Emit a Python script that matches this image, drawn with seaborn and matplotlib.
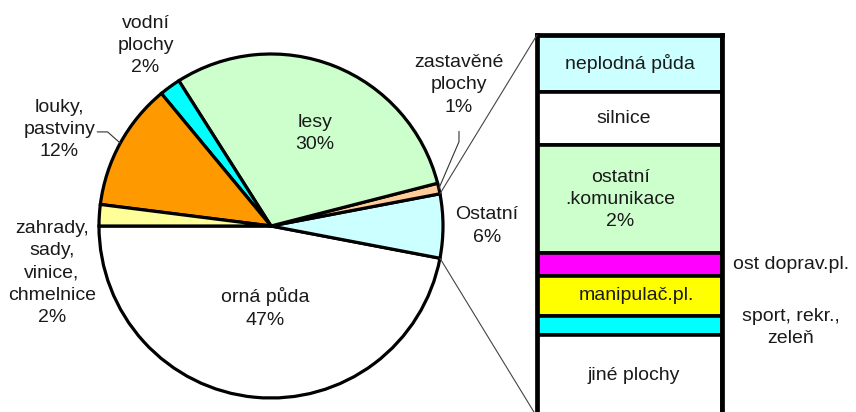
import numpy as np
import matplotlib.pyplot as plt
import seaborn as sns
from matplotlib.patches import ConnectionPatch

# land use - pie part (percent)
pie_labels = ["orná půda\n47%", "Ostatní\n6%", "zastavěné\nplochy\n1%", "lesy\n30%",
              "vodní\nplochy\n2%", "louky,\npastviny\n12%",
              "zahrady,\nsady,\nvinice,\nchmelnice\n2%"]
pie_values = [47, 6, 1, 30, 2, 12, 2]
pie_colors = ["#FFFFFF", "#CCFFFF", "#FFCC99", "#CCFFCC", "#00FFFF", "#FF9900", "#FFFF99"]

# breakdown of "Ostatní" (percent of total)
bar_labels = ["neplodná půda", "silnice", "ostatní\n.komunikace\n2%", "ost doprav.pl.",
              "manipulač.pl.", "sport, rekr.,\nzeleň", "jiné plochy"]
bar_values = [0.90, 0.83, 1.70, 0.35, 0.63, 0.30, 1.29]
bar_colors = ["#CCFFFF", "#FFFFFF", "#CCFFCC", "#FF00FF", "#FFFF00", "#00FFFF", "#FFFFFF"]

sns.set_theme(style="white")
plt.rcParams["font.family"] = ["Liberation Sans", "DejaVu Sans"]
txt = dict(fontsize=14, color="#1a1a1a", ha="center", va="center", linespacing=1.4)

fig = plt.figure(figsize=(8.56, 4.12), dpi=100)
ax_pie = fig.add_axes([99 / 856, 14 / 412, 344 / 856, 344 / 412])
ax_bar = fig.add_axes([537 / 856, -5 / 412, 185 / 856, 382 / 412])

wedges, _ = ax_pie.pie(pie_values, colors=pie_colors, startangle=180, counterclock=True,
                       wedgeprops=dict(edgecolor="black", linewidth=2.3))
ax_pie.set_xlim(-1, 1)
ax_pie.set_ylim(-1, 1)
ax_pie.axis("off")

# label positions (pie data coords)
label_pos = [(-0.035, -0.477), (1.256, 0.0), (1.09, 0.82), (0.256, 0.54),
             (-0.73, 1.05), (-1.23, 0.56), (-1.273, -0.273)]
for lab, (x, y) in zip(pie_labels, label_pos):
    ax_pie.text(x, y, lab, clip_on=False, **txt)

def edge_point(w, r=1.0):
    a = np.deg2rad((w.theta1 + w.theta2) / 2)
    return r * np.cos(a), r * np.sin(a)

# leader lines
ex, ey = edge_point(wedges[5])
ax_pie.plot([-1.01, -0.95, ex], [0.547, 0.547, ey], color="#333333", lw=0.8, clip_on=False)
ex, ey = edge_point(wedges[2])
ax_pie.plot([1.093, 1.093, ex], [0.55, 0.49, ey], color="#333333", lw=0.8, clip_on=False)

# stacked bar
bottoms = np.concatenate([[0], np.cumsum(bar_values)[:-1]])
for val, b, c in zip(bar_values, bottoms, bar_colors):
    ax_bar.bar(0, val, bottom=b, width=1, color=c, edgecolor="black", linewidth=2.6)
total = sum(bar_values)
ax_bar.set_xlim(-0.5, 0.5)
ax_bar.set_ylim(total, 0)
ax_bar.set_xticks([])
ax_bar.set_yticks([])
for s in ax_bar.spines.values():
    s.set_linewidth(3.4)
    s.set_color("black")

# label x placement inside / beside the bar (axes data units)
label_x = [0.0, -0.03, -0.05, 0.56, 0.035, 0.87, 0.025]
centers = bottoms + np.array(bar_values) / 2
for i, (lab, yc, lx) in enumerate(zip(bar_labels, centers, label_x)):
    if i == 3:
        ax_bar.text(lx, yc, lab, **{**txt, "ha": "left"})
    elif i == 5:
        ax_bar.text(lx, yc + 0.03, lab, **txt)
    else:
        ax_bar.text(lx, yc, lab, **txt)

# connectors between pie and bar
ostatni = wedges[1]
for ang, yb in [(ostatni.theta2, 0), (ostatni.theta1, total)]:
    a = np.deg2rad(ang)
    con = ConnectionPatch(xyA=(np.cos(a), np.sin(a)), coordsA=ax_pie.transData,
                          xyB=(-0.5, yb), coordsB=ax_bar.transData,
                          color="#444444", lw=0.8)
    fig.add_artist(con)

fig.savefig("out.png", dpi=100)
